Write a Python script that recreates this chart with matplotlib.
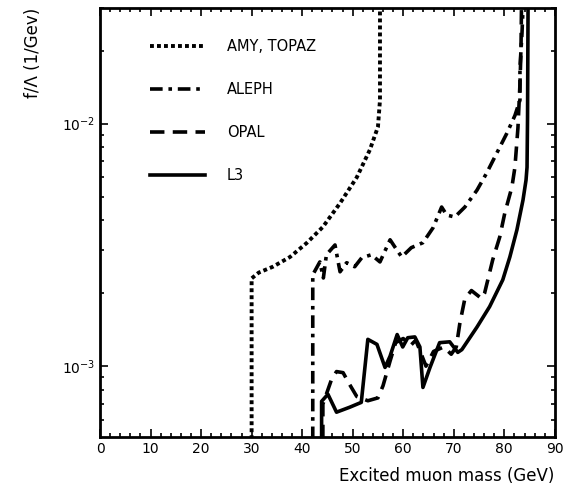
import matplotlib
matplotlib.use('Agg')
import matplotlib.pyplot as plt
from matplotlib.ticker import FixedLocator, MultipleLocator, NullFormatter

plt.rcParams['font.family'] = ['DejaVu Sans']

# exclusion limits (mass in GeV, f/Lambda in 1/GeV)
amy_x = [30.0, 30.0, 31.4, 34.2, 37.6, 40.9, 44.1, 47.5, 50.8, 53.4, 55.0, 55.4, 55.4]
amy_y = [5e-4, 2.3e-3, 2.43e-3, 2.57e-3, 2.82e-3, 3.22e-3, 3.75e-3, 4.7e-3, 6.0e-3,
         7.8e-3, 9.7e-3, 1.25e-2, 3e-2]

aleph_x = [42.1, 42.1, 43.5, 44.2, 44.8, 46.5, 47.5, 48.8, 50.4, 51.8, 53.7, 55.4, 57.4,
           58.3, 59.7, 61.6, 63.9, 65.9, 67.6, 68.6, 70.2, 72.2, 74.6, 76.5, 78.5, 80.5,
           82.1, 83.1, 83.1, 83.5, 83.7]
aleph_y = [5e-4, 2.38e-3, 2.69e-3, 2.31e-3, 2.88e-3, 3.16e-3, 2.45e-3, 2.67e-3, 2.57e-3,
           2.8e-3, 2.88e-3, 2.69e-3, 3.32e-3, 3.11e-3, 2.82e-3, 3.08e-3, 3.23e-3, 3.72e-3,
           4.53e-3, 4.2e-3, 4.12e-3, 4.53e-3, 5.32e-3, 6.25e-3, 7.55e-3, 9.12e-3, 1.08e-2,
           1.25e-2, 1.7e-2, 2.35e-2, 3e-2]

opal_x = [44.1, 44.1, 45.8, 46.8, 48.1, 49.4, 50.8, 53.0, 55.0, 56.0, 57.4, 58.5, 60.0,
          61.5, 62.5, 64.5, 66.0, 68.0, 69.5, 70.5, 71.2, 72.2, 73.5, 75.5, 76.1, 77.7,
          79.1, 80.1, 81.5, 82.1, 82.7, 83.1, 83.3, 83.4]
opal_y = [5e-4, 6.97e-4, 8.8e-4, 9.5e-4, 9.4e-4, 8.4e-4, 7.5e-4, 7.2e-4, 7.4e-4, 8.3e-4,
          1.05e-3, 1.25e-3, 1.3e-3, 1.22e-3, 1.28e-3, 1.0e-3, 1.15e-3, 1.2e-3, 1.12e-3,
          1.2e-3, 1.5e-3, 1.9e-3, 2.05e-3, 1.9e-3, 2.0e-3, 2.74e-3, 3.41e-3, 4.28e-3,
          5.47e-3, 6.6e-3, 9.6e-3, 1.46e-2, 2.0e-2, 3e-2]

l3_x = [43.85, 43.85, 45.1, 46.8, 49.4, 51.7, 53.0, 54.8, 56.4, 57.4, 58.8, 59.9, 60.9,
        62.3, 63.3, 63.9, 65.3, 67.2, 69.2, 70.8, 71.6, 74.6, 77.1, 79.7, 81.1, 82.5,
        83.7, 84.3, 84.5, 84.6, 84.7]
l3_y = [5e-4, 7.16e-4, 7.66e-4, 6.46e-4, 6.77e-4, 7.09e-4, 1.29e-3, 1.23e-3, 9.88e-4,
        1.1e-3, 1.35e-3, 1.2e-3, 1.31e-3, 1.32e-3, 1.2e-3, 8.17e-4, 9.88e-4, 1.25e-3,
        1.26e-3, 1.14e-3, 1.17e-3, 1.45e-3, 1.76e-3, 2.27e-3, 2.82e-3, 3.65e-3, 4.84e-3,
        5.85e-3, 6.61e-3, 1.06e-2, 3e-2]

labels = ['AMY, TOPAZ', 'ALEPH', 'OPAL', 'L3']

fig = plt.figure(figsize=(5.65, 4.95), dpi=100)
ax = fig.add_axes([0.177, 0.117, 0.805, 0.867])

lw = 2.6
l1, = ax.plot(amy_x, amy_y, color='black', lw=2.8, linestyle=(0, (1, 0.8)))
l2, = ax.plot(aleph_x, aleph_y, color='black', lw=lw, linestyle=(0, (3.5, 1.6, 1, 1.6)))
l3, = ax.plot(opal_x, opal_y, color='black', lw=lw, linestyle=(0, (4, 2.3)))
l4, = ax.plot(l3_x, l3_y, color='black', lw=lw, linestyle='-')

ax.set_yscale('log')
ax.set_xlim(0, 90)
ax.set_ylim(5.1e-4, 3e-2)

ax.xaxis.set_major_locator(MultipleLocator(10))
ax.xaxis.set_minor_locator(MultipleLocator(2))
ax.yaxis.set_major_locator(FixedLocator([1e-3, 1e-2]))
ax.yaxis.set_minor_locator(FixedLocator([k * 10.0 ** e for e in (-4, -3, -2) for k in range(2, 10)]))
ax.yaxis.set_minor_formatter(NullFormatter())
ax.set_yticklabels([r'$10^{-3}$', r'$10^{-2}$'])

ax.tick_params(which='both', direction='in', top=True, right=True, labelsize=10, width=1.2)
ax.tick_params(which='major', length=6)
ax.tick_params(which='minor', length=3)
for s in ax.spines.values():
    s.set_linewidth(2)

ax.set_xlabel('Excited muon mass (GeV)', fontsize=12, loc='right', labelpad=8)
ax.set_ylabel('f/Λ (1/Gev)', fontsize=12, loc='top', labelpad=14)

ax.legend([l1, l2, l3, l4], labels, loc='upper left', bbox_to_anchor=(0.08, 0.957),
          frameon=False, fontsize=10.5, handlelength=3.8, labelspacing=1.9,
          handletextpad=1.5)

plt.savefig('out.png', dpi=100)
